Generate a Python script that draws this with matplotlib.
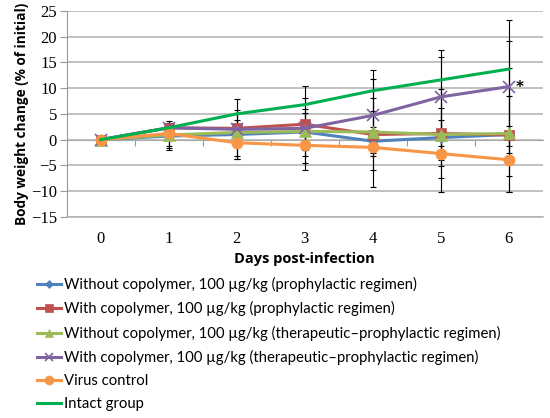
import numpy as np
import matplotlib.pyplot as plt

# values
days = [0, 1, 2, 3, 4, 5, 6]
labels = [
    "Without copolymer, 100 µg/kg (prophylactic regimen)",
    "With copolymer, 100 µg/kg (prophylactic regimen)",
    "Without copolymer, 100 µg/kg (therapeutic\u2013prophylactic regimen)",
    "With copolymer, 100 µg/kg (therapeutic\u2013prophylactic regimen)",
    "Virus control",
    "Intact group",
]

wo_proph = [0, 0.7, 1.0, 1.5, -0.3, 0.4, 1.0]
wo_proph_hi = [0, 2.6, 5.2, 6.0, 8.0, 9.8, 13.9]
wo_proph_lo = [0, -1.2, -3.2, -3.2, -5.8, -7.4, -10.1]

w_proph = [0, 2.3, 2.2, 3.0, 1.0, 1.2, 0.9]
w_proph_hi = [0, 3.6, 5.7, 8.1, 11.7, 16.1, 19.1]
w_proph_lo = [0, 1.0, -1.3, -2.1, -9.2, -10.1, -7.1]

wo_ther = [0, 0.9, 1.4, 1.6, 1.5, 1.0, 1.2]
wo_ther_hi = [0, 2.8, 3.9, 5.2, 5.5, 6.1, 8.4]
wo_ther_lo = [0, -1.6, -1.1, -2.0, -2.5, -3.9, -1.3]

w_ther = [0, 2.3, 2.0, 2.2, 4.7, 8.3, 10.3]
w_ther_hi = [0, 3.3, 7.8, 10.5, 13.45, 17.4, 23.3]
w_ther_lo = [0, 1.3, -3.7, -5.8, 1.8, -1.3, -2.6]

virus = [0, 1.2, -0.6, -1.1, -1.5, -2.7, -3.9]
virus_hi = [0, 2.9, 2.6, 3.5, 2.5, 3.9, 2.6]
virus_lo = [0, -2.1, -3.75, -4.5, -3.2, -5.2, -10.1]

intact = [0, 2.3, 5.0, 6.8, 9.5, 11.6, 13.7]

series = [
    (wo_proph, wo_proph_lo, wo_proph_hi, "#4F81BD", "D", 5),
    (w_proph, w_proph_lo, w_proph_hi, "#C0504D", "s", 7),
    (wo_ther, wo_ther_lo, wo_ther_hi, "#9BBB59", "^", 8),
    (w_ther, w_ther_lo, w_ther_hi, "#8064A2", "x", 8),
    (virus, virus_lo, virus_hi, "#F79646", "o", 8),
]

fig = plt.figure(figsize=(5.5, 4.18), dpi=100)
ax = fig.add_axes([0.121, 0.481, 0.866, 0.493])

x = np.array(days)
handles = []
for i, (vals, lo, hi, col, mk, ms) in enumerate(series):
    v = np.array(vals)
    yerr = [v - np.array(lo), np.array(hi) - v]
    ax.errorbar(x, v, yerr=yerr, fmt="none", ecolor="black", elinewidth=0.8,
                capsize=2.2, capthick=0.8, zorder=3)
    h, = ax.plot(x, v, color=col, lw=2.2, marker=mk, ms=ms, mew=1.2 if mk == "x" else 0.5,
                 mec=col, mfc=col, zorder=4 + i, label=labels[i])
    handles.append(h)
h, = ax.plot(x, intact, color="#00B050", lw=2.2, zorder=10, label=labels[5])
handles.append(h)

ax.annotate("*", (days[-1], w_ther[-1]), xytext=(5, -4), textcoords="offset points",
            fontsize=11, fontweight="bold", family="DejaVu Sans")

ax.set_xlim(-0.5, 6.5)
ax.set_ylim(-15, 25)
ax.set_yticks(np.arange(-15, 26, 5))
ax.set_yticklabels([str(t).replace("-", "\u2212") for t in range(-15, 26, 5)],
                   family="Liberation Serif", fontsize=12)
ax.set_xticks(days)
ax.set_xticklabels([str(d) for d in days], family="Liberation Serif", fontsize=12)
ax.tick_params(axis="x", length=0, pad=10)
ax.tick_params(axis="y", length=5, color="#999999", pad=2)
ax.grid(axis="y", color="#B0B0B0", lw=1.1)
ax.set_axisbelow(True)
for s in ["top", "right"]:
    ax.spines[s].set_visible(False)
ax.spines["left"].set_color("#999999")
ax.spines["bottom"].set_color("#B0B0B0")
ax.spines["bottom"].set_linewidth(1.1)

# category axis crossing at y = 0, tick marks between categories
sec = ax.secondary_xaxis(15 / 40)
sec.set_xticks(np.arange(len(days) - 1) + 0.5)
sec.set_xticklabels([])
sec.tick_params(length=4, color="#999999", direction="out")
sec.spines["bottom"].set_color("#999999")

ax.set_xlabel("Days post-infection", family="Open Sans", fontweight="bold", fontsize=10.5,
              labelpad=4)
ax.set_ylabel("Body weight change (% of initial)", family="Open Sans", fontweight="bold",
              fontsize=9.8, labelpad=1)

fig.legend(handles=handles, loc="upper left", bbox_to_anchor=(0.067, 0.337),
           frameon=False, prop={"family": "Lato", "size": 10.7}, handlelength=1.6,
           handletextpad=0.2, labelspacing=0.62, borderpad=0, borderaxespad=0,
           markerscale=0.8)

fig.savefig("out.png", dpi=100)
